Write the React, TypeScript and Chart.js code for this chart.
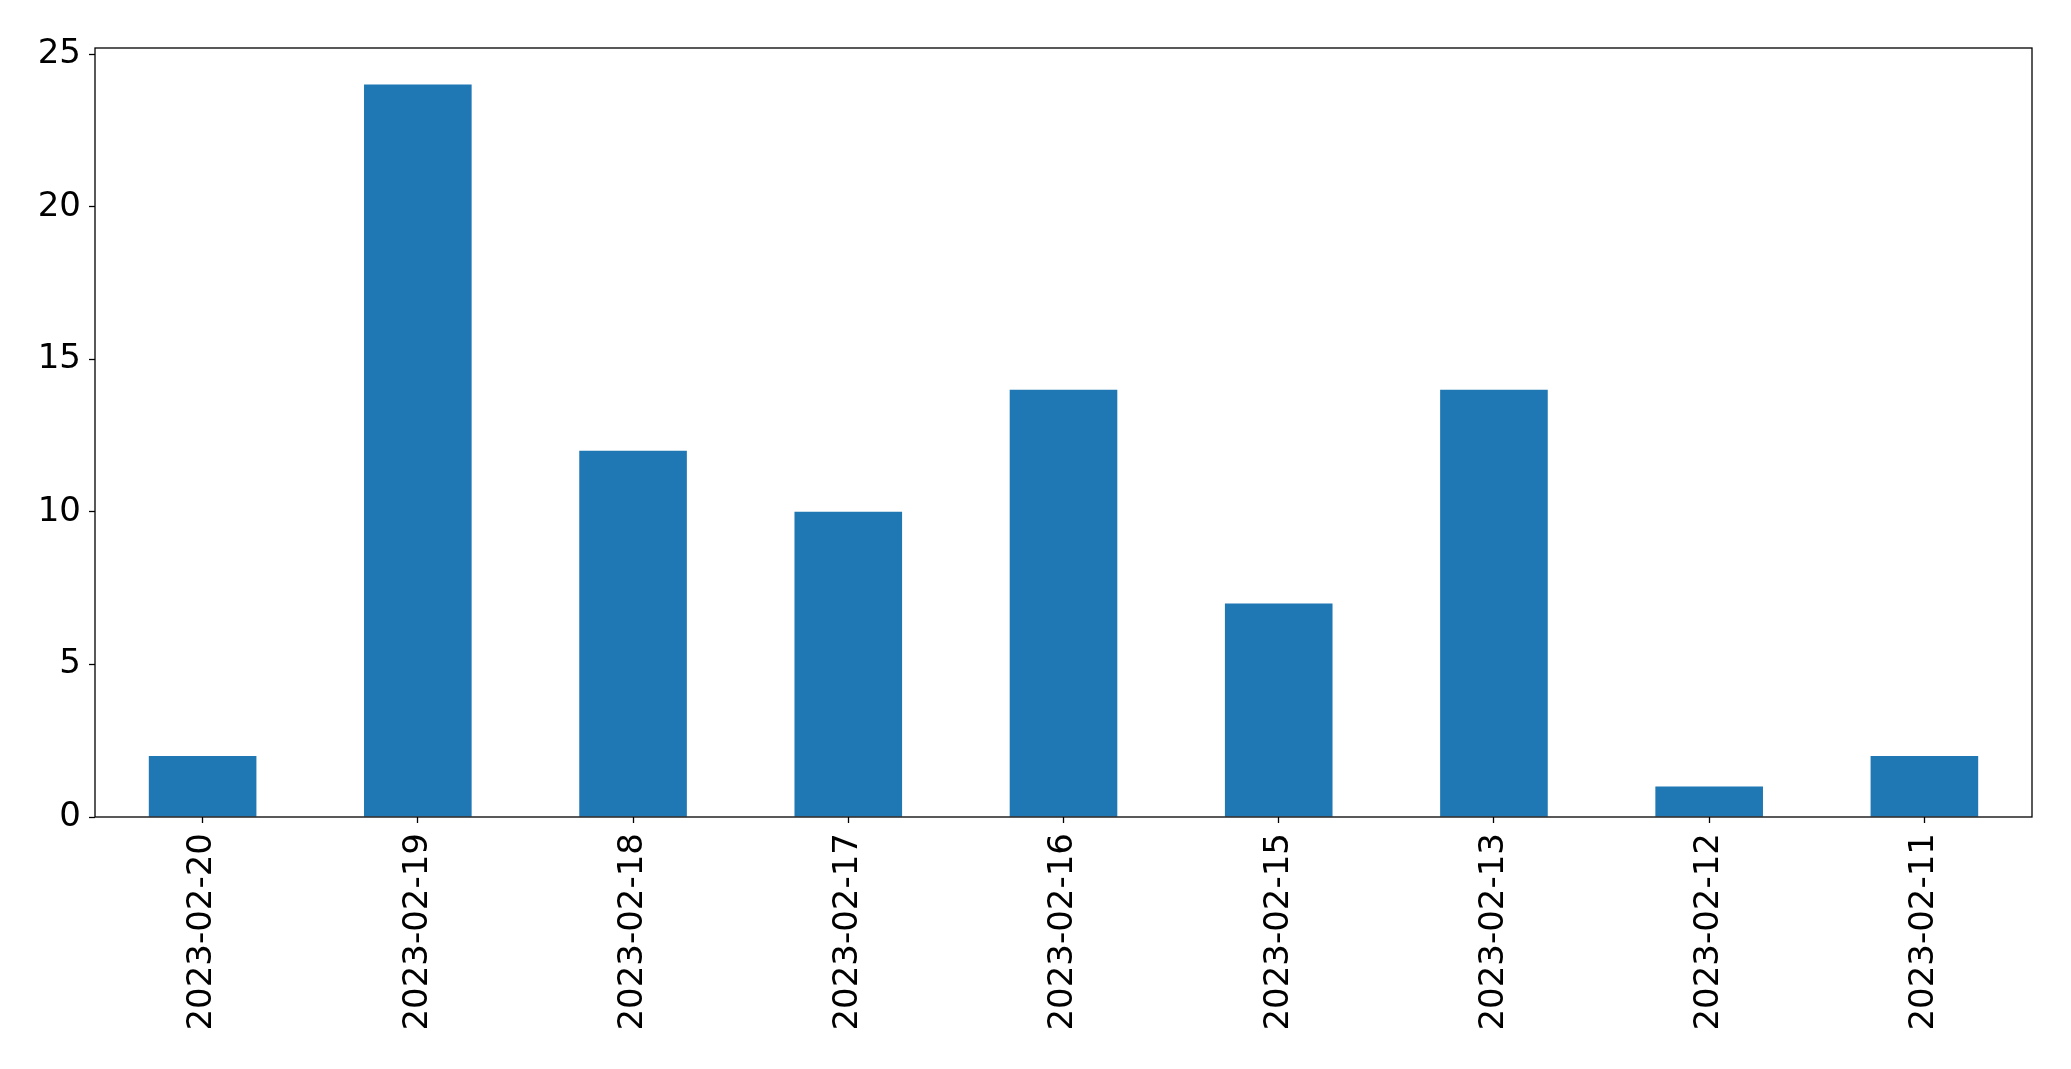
import React, { useEffect, useRef } from "react";
import { Chart, registerables } from "chart.js";

Chart.register(...registerables);

const categories = [
  "2023-02-20",
  "2023-02-19",
  "2023-02-18",
  "2023-02-17",
  "2023-02-16",
  "2023-02-15",
  "2023-02-13",
  "2023-02-12",
  "2023-02-11",
];
const counts = [2, 24, 12, 10, 14, 7, 14, 1, 2];
const yTickValues = [0, 5, 10, 15, 20, 25];

const W = 2071;
const H = 1069;
const FONT = "'DejaVu Sans', sans-serif";

const framePlugin = {
  id: "frame",
  afterDraw(chart: any) {
    const { ctx, chartArea } = chart;
    ctx.save();
    ctx.strokeStyle = "#000";
    ctx.lineWidth = 1.3;
    ctx.strokeRect(chartArea.left, chartArea.top, chartArea.right - chartArea.left, chartArea.bottom - chartArea.top);
    ctx.restore();
  },
};

export default function App() {
  const ref = useRef<HTMLCanvasElement>(null);
  useEffect(() => {
    if (!ref.current) return;
    const chart = new Chart(ref.current, {
      type: "bar",
      data: {
        labels: categories,
        datasets: [
          {
            data: counts,
            backgroundColor: "#1f77b4",
            borderWidth: 0,
            categoryPercentage: 1,
            barPercentage: 0.5,
          },
        ],
      },
      options: {
        responsive: false,
        animation: false,
        events: [],
        layout: { padding: { top: 48, right: 39, left: 0, bottom: 0 } },
        plugins: { legend: { display: false }, tooltip: { enabled: false } },
        scales: {
          x: {
            grid: {
              display: true,
              drawOnChartArea: false,
              drawTicks: true,
              tickLength: 6,
              tickWidth: 1.3,
              color: "#000",
              offset: false,
            },
            border: { display: false },
            ticks: {
              color: "#000",
              font: { family: FONT, size: 34 },
              minRotation: 90,
              maxRotation: 90,
              padding: 10,
              autoSkip: false,
            },
            afterFit(scale: any) {
              scale.height = 252;
            },
          },
          y: {
            min: 0,
            max: 25.2,
            grid: {
              display: true,
              drawOnChartArea: false,
              drawTicks: true,
              tickLength: 6,
              tickWidth: 1.3,
              color: "#000",
            },
            border: { display: false },
            ticks: {
              color: "#000",
              font: { family: FONT, size: 34 },
              stepSize: 5,
              padding: 8,
              includeBounds: false,
            } as any,
            afterBuildTicks(scale: any) {
              scale.ticks = yTickValues.map((v) => ({ value: v }));
            },
            afterFit(scale: any) {
              scale.width = 95;
            },
          },
        },
      },
      plugins: [framePlugin],
    });
    return () => chart.destroy();
  }, []);
  return (
    <div style={{ position: "absolute", left: 0, top: 0, width: W, height: H, background: "#fff" }}>
      <canvas ref={ref} width={W} height={H} style={{ width: W, height: H }} />
    </div>
  );
}
